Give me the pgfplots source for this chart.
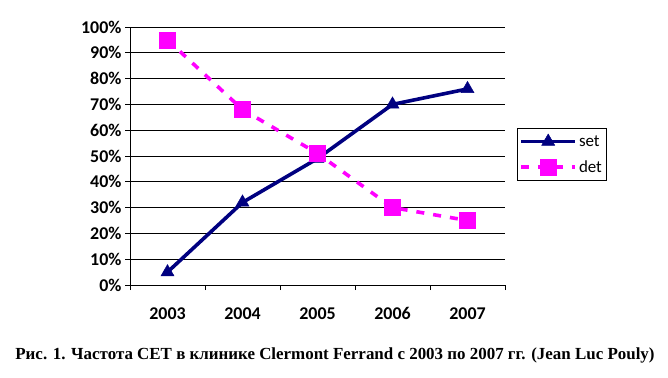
\documentclass[border=0pt]{standalone}
\usepackage{fontspec}
\setmainfont{Carlito}
\newfontfamily\capfont{Liberation Serif}
\usepackage{pgfplots}
\pgfplotsset{compat=1.18}
\definecolor{navyc}{RGB}{0,0,128}
\definecolor{mag}{RGB}{255,0,255}
\begin{document}
\begin{tikzpicture}[x=1bp,y=1bp]
\path[use as bounding box] (0,0) rectangle (668,377);
\begin{axis}[
  at={(130bp,92bp)}, anchor=south west,
  scale only axis, width=375bp, height=258bp,
  xmin=-0.5, xmax=4.5, ymin=0, ymax=100,
  axis lines*=left,
  axis line style={black, line width=0.8bp},
  xtick={0,1,2,3,4}, xticklabels={2003,2004,2005,2006,2007},
  minor xtick={-0.5,0.5,1.5,2.5,3.5,4.5},
  ytick={0,10,...,100},
  yticklabel={\pgfmathprintnumber{\tick}\%},
  /pgf/number format/assume math mode=true,
  tick align=outside,
  major tick length=5bp, minor tick length=5bp,
  major x tick style={draw=none},
  minor x tick style={black, line width=0.8bp},
  major y tick style={black, line width=0.8bp},
  ymajorgrids, grid style={black, line width=0.8bp},
  tick label style={font=\bfseries\fontsize{18}{21}\selectfont},
  xticklabel style={yshift=-14bp},
  yticklabel style={xshift=0bp},
  legend style={at={(1.032,0.6085)}, anchor=north west, draw=black, line width=0.8bp,
    font=\fontsize{17}{20}\selectfont, inner xsep=2bp, inner ysep=5bp, row sep=9bp},
  legend cell align=left,
  legend image code/.code={\draw[mark repeat=2,mark phase=2,#1] plot coordinates {(0bp,0bp) (27bp,0bp) (54bp,0bp)};},
]
\addplot[navyc, line width=3.6bp, mark=triangle*, mark size=7.5bp, mark options={solid, line width=0.5bp}]
  coordinates {(0,5) (1,32) (2,49) (3,70) (4,76)};
\addlegendentry{set}
\addplot[mag, line width=3.6bp, dash pattern=on 8bp off 9bp, mark=square*, mark size=8bp, mark options={solid, line width=0.5bp}]
  coordinates {(0,95) (1,68) (2,51) (3,30) (4,25)};
\addlegendentry{det}
\end{axis}
\node[font=\capfont\bfseries\fontsize{17}{19}\selectfont, inner sep=0] at (335,22) {Рис. 1. Частота СЕТ в клинике Clermont Ferrand с 2003 по 2007 гг. (Jean Luc Pouly)};
\end{tikzpicture}
\end{document}
